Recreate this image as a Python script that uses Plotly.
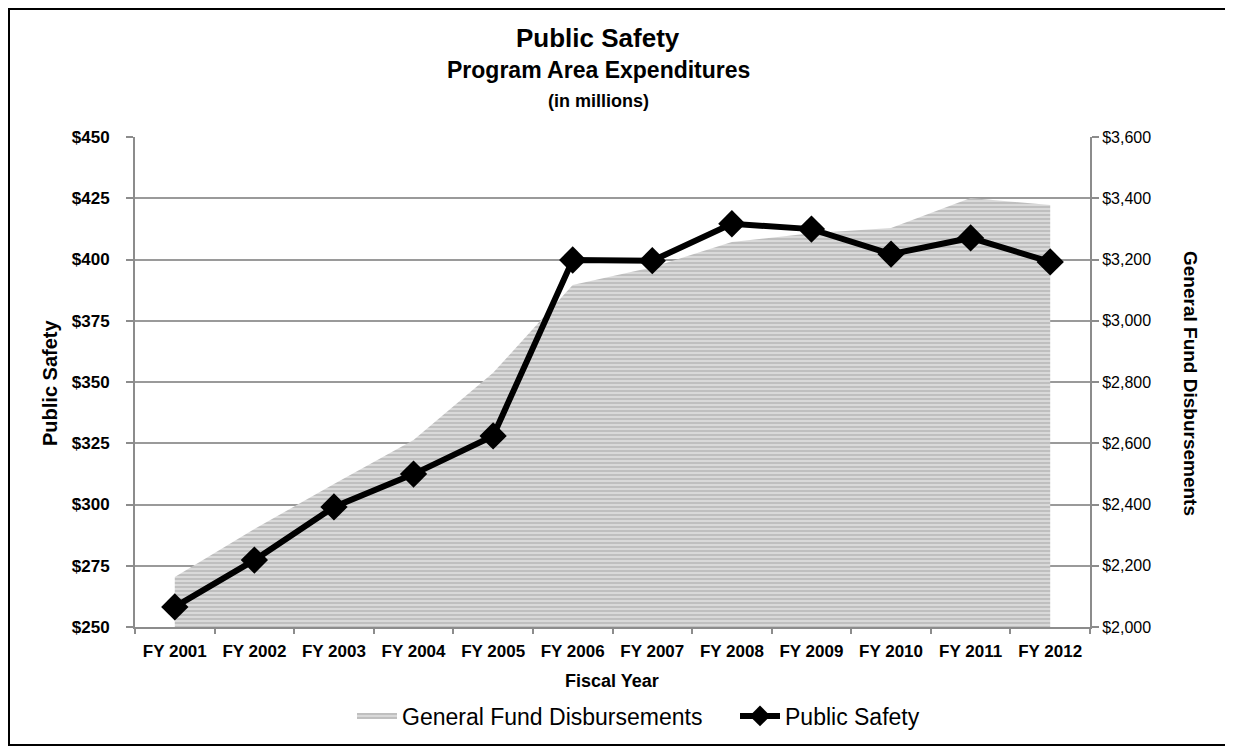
import plotly.graph_objects as go

# values (in millions)
years = ["FY 2001", "FY 2002", "FY 2003", "FY 2004", "FY 2005", "FY 2006",
         "FY 2007", "FY 2008", "FY 2009", "FY 2010", "FY 2011", "FY 2012"]
public_safety = [258.2, 277.3, 299.0, 312.4, 328.0, 399.8,
                 399.5, 414.6, 412.4, 402.2, 408.8, 399.0]
general_fund = [2163, 2320, 2467, 2611, 2830, 3117,
                3175, 3257, 3286, 3303, 3401, 3378]

left_ticks = [250, 275, 300, 325, 350, 375, 400, 425, 450]
right_ticks = [2000, 2200, 2400, 2600, 2800, 3000, 3200, 3400, 3600]

# the page body adds an 8px offset, so work in page pixels and convert
OFF = 8
W, H = 1225, 742
L, R, T, B = 127, 143, 129, 123
PW, PH = W - L - R, H - T - B


def px(x):
    return (x - OFF - L) / PW


def py(y):
    return (H - B - (y - OFF)) / PH


FONT = "Liberation Sans, Arial, sans-serif"
AXIS_GRAY = "#8c8c8c"

# area on the base axis (right side), line on the overlay so it sits on top
area = go.Scatter(
    x=years, y=general_fund, yaxis="y", name="General Fund Disbursements",
    mode="none", fill="tozeroy", fillcolor="#cccccc",
    fillpattern=dict(shape="-", fgcolor="#999999", bgcolor="#d9d9d9",
                     size=4, solidity=0.4),
)
line = go.Scatter(
    x=years, y=public_safety, yaxis="y2", name="Public Safety",
    mode="lines+markers",
    line=dict(color="black", width=6),
    marker=dict(symbol="diamond", size=21, color="black"),
)

fig = go.Figure(data=[area, line])

fig.update_layout(
    width=W, height=H,
    margin=dict(l=L, r=R, t=T, b=B),
    paper_bgcolor="white", plot_bgcolor="white",
    font=dict(family=FONT, size=16, color="black"),
    showlegend=True,
    legend=dict(orientation="h", x=px(352), xanchor="left", y=py(716),
                yanchor="middle", font=dict(size=23), traceorder="normal",
                entrywidth=328, itemwidth=40),
    xaxis=dict(
        type="category", range=[-0.5, 11.5], tickson="boundaries",
        ticks="outside", ticklen=5, tickcolor=AXIS_GRAY, tickwidth=2,
        showline=True, linecolor=AXIS_GRAY, linewidth=2,
        showgrid=False, tickfont=dict(size=17, weight="bold"),
        ticklabelstandoff=8,
    ),
    yaxis=dict(
        range=[2000, 3600], tickvals=right_ticks,
        ticktext=[f"${v:,}" for v in right_ticks], side="right",
        ticks="outside", ticklen=7, tickcolor=AXIS_GRAY, tickwidth=2,
        showline=True, linecolor=AXIS_GRAY, linewidth=2,
        showgrid=True, gridcolor="#9a9a9a", gridwidth=2,
        zeroline=False, tickfont=dict(size=16),
    ),
    yaxis2=dict(
        range=[250, 450], tickvals=left_ticks,
        ticktext=[f"${v}" for v in left_ticks],
        overlaying="y", side="left",
        ticks="outside", ticklen=7, tickcolor=AXIS_GRAY, tickwidth=2,
        showline=True, linecolor=AXIS_GRAY, linewidth=2,
        showgrid=False, zeroline=False, tickfont=dict(size=17, weight="bold"),
        ticklabelstandoff=13,
    ),
)

titles = [
    ("<b>Public Safety</b>", 26, 38),
    ("<b>Program Area Expenditures</b>", 23, 70),
    ("<b>(in millions)</b>", 18, 101),
]
for text, size, y in titles:
    fig.add_annotation(text=text, x=px(598), y=py(y), xref="paper", yref="paper",
                       showarrow=False, font=dict(size=size), xanchor="center",
                       yanchor="middle")

fig.add_annotation(text="<b>Public Safety</b>", x=px(50), y=py(383),
                   xref="paper", yref="paper", showarrow=False, textangle=-90,
                   font=dict(size=20), xanchor="center", yanchor="middle")
fig.add_annotation(text="<b>General Fund Disbursements</b>", x=px(1191),
                   y=py(383), xref="paper", yref="paper", showarrow=False,
                   textangle=90, font=dict(size=19), xanchor="center",
                   yanchor="middle")
fig.add_annotation(text="<b>Fiscal Year</b>", x=px(612), y=py(681),
                   xref="paper", yref="paper", showarrow=False,
                   font=dict(size=18), xanchor="center", yanchor="middle")

# outer frame around the whole chart
fig.add_shape(type="rect", xref="paper", yref="paper",
              x0=px(9), x1=px(1228), y0=py(745), y1=py(9),
              line=dict(color="black", width=2), layer="below")

fig.write_html("out.html")
